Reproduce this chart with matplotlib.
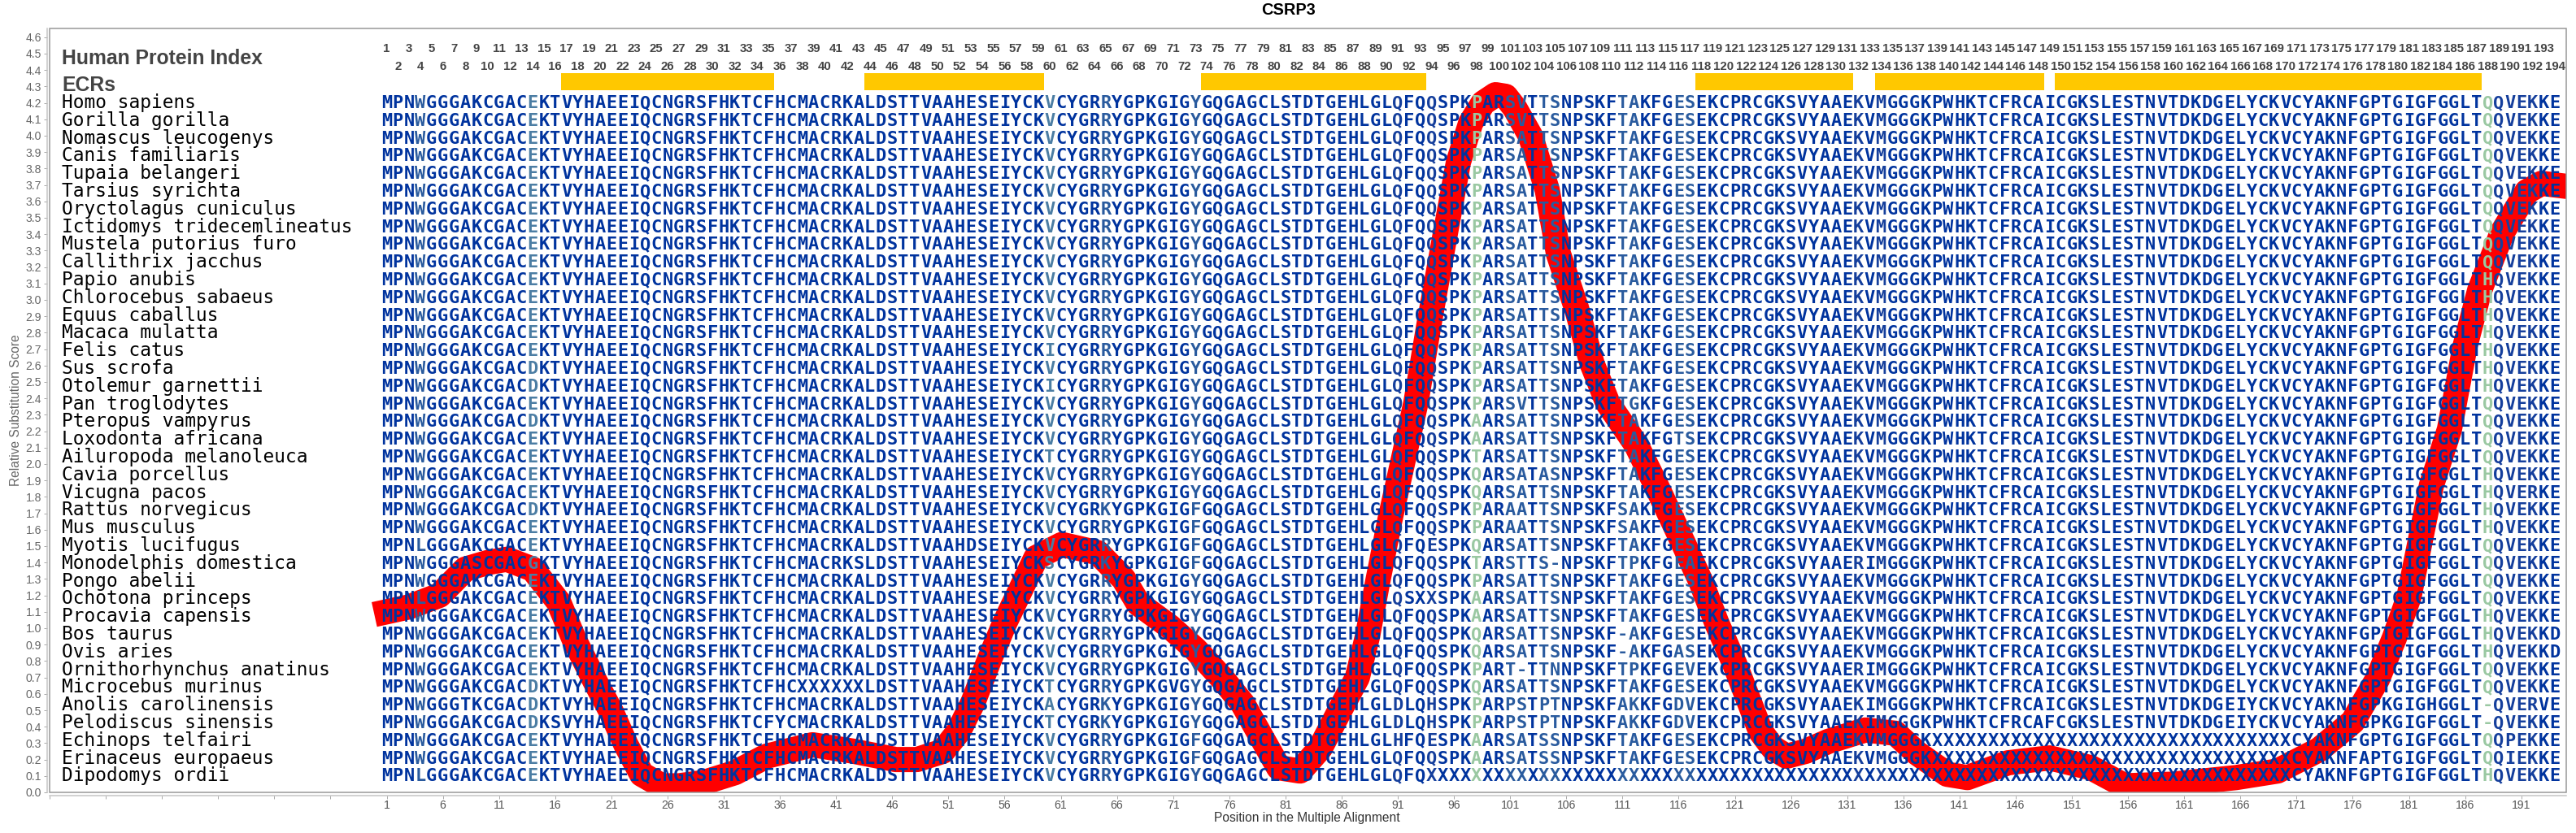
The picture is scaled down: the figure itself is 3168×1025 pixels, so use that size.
#!/usr/bin/env python3
import matplotlib
matplotlib.use('Agg')
import matplotlib.pyplot as plt

W, H = 3168, 1025
px = 72 / 100  # one pixel in points at dpi=100

species = ['Homo sapiens', 'Gorilla gorilla', 'Nomascus leucogenys', 'Canis familiaris',
           'Tupaia belangeri', 'Tarsius syrichta', 'Oryctolagus cuniculus',
           'Ictidomys tridecemlineatus', 'Mustela putorius furo', 'Callithrix jacchus',
           'Papio anubis', 'Chlorocebus sabaeus', 'Equus caballus', 'Macaca mulatta',
           'Felis catus', 'Sus scrofa', 'Otolemur garnettii', 'Pan troglodytes',
           'Pteropus vampyrus', 'Loxodonta africana', 'Ailuropoda melanoleuca',
           'Cavia porcellus', 'Vicugna pacos', 'Rattus norvegicus', 'Mus musculus',
           'Myotis lucifugus', 'Monodelphis domestica', 'Pongo abelii', 'Ochotona princeps',
           'Procavia capensis', 'Bos taurus', 'Ovis aries', 'Ornithorhynchus anatinus',
           'Microcebus murinus', 'Anolis carolinensis', 'Pelodiscus sinensis',
           'Echinops telfairi', 'Erinaceus europaeus', 'Dipodomys ordii']

# consensus of the alignment, changes per species are below (1-based position)
consensus = ('MPNWGGGAKCGACEKTVYHAEEIQCNGRSFHKTCFHCMACRKALDSTTVAAHESEIYCKVCYGRRYGPKGIGYGQGAGCLSTDTGEHLGLQFQQSPKP'
             'ARSATTSNPSKFTAKFGESEKCPRCGKSVYAAEKVMGGGKPWHKTCFRCAICGKSLESTNVTDKDGELYCKVCYAKNFGPTGIGFGGLTQQVEKKE')

changes = {
    'Homo sapiens': {102: 'V'},
    'Gorilla gorilla': {102: 'V'},
    'Papio anubis': {188: 'H'},
    'Chlorocebus sabaeus': {188: 'H'},
    'Equus caballus': {188: 'H'},
    'Macaca mulatta': {188: 'H'},
    'Felis catus': {60: 'I', 188: 'H'},
    'Sus scrofa': {14: 'D', 188: 'H'},
    'Otolemur garnettii': {14: 'D', 60: 'I', 188: 'H'},
    'Pan troglodytes': {102: 'V', 112: 'G'},
    'Pteropus vampyrus': {14: 'D', 98: 'A'},
    'Loxodonta africana': {98: 'A', 116: 'T'},
    'Ailuropoda melanoleuca': {60: 'T', 98: 'T'},
    'Cavia porcellus': {98: 'Q', 104: 'A', 188: 'H'},
    'Vicugna pacos': {98: 'Q', 188: 'H', 192: 'R'},
    'Rattus norvegicus': {14: 'D', 65: 'K', 73: 'F', 101: 'A', 111: 'S', 188: 'H'},
    'Mus musculus': {73: 'F', 101: 'A', 111: 'S', 188: 'H'},
    'Myotis lucifugus': {4: 'L', 53: 'D', 73: 'F', 94: 'E', 98: 'Q'},
    'Monodelphis domestica': {8: 'A', 9: 'S', 14: 'G', 43: 'S', 60: 'S', 65: 'K', 73: 'F', 98: 'T',
                              102: 'T', 104: 'S', 105: '-', 112: 'P', 117: 'A', 132: 'R', 133: 'I'},
    'Ochotona princeps': {4: 'L', 92: 'S', 93: 'X', 94: 'X', 98: 'A'},
    'Procavia capensis': {98: 'A', 188: 'H'},
    'Bos taurus': {98: 'Q', 111: '-', 188: 'H', 194: 'D'},
    'Ovis aries': {98: 'Q', 111: '-', 116: 'A', 188: 'H', 194: 'D'},
    'Ornithorhynchus anatinus': {101: 'T', 102: '-', 105: 'N', 112: 'P', 117: 'V', 132: 'R', 133: 'I'},
    'Microcebus murinus': {14: 'D', 38: 'X', 39: 'X', 40: 'X', 41: 'X', 42: 'X', 43: 'X', 60: 'T',
                           71: 'V', 98: 'Q'},
    'Anolis carolinensis': {8: 'T', 14: 'D', 60: 'A', 65: 'K', 91: 'D', 92: 'L', 94: 'H', 101: 'P',
                            102: 'S', 104: 'P', 105: 'T', 111: 'A', 112: 'K', 116: 'D', 117: 'V',
                            133: 'I', 166: 'I', 179: 'K', 183: 'H', 188: '-', 192: 'R', 193: 'V'},
    'Pelodiscus sinensis': {14: 'D', 16: 'S', 36: 'Y', 60: 'T', 65: 'K', 91: 'D', 92: 'L', 94: 'H',
                            101: 'P', 102: 'S', 104: 'P', 105: 'T', 111: 'A', 112: 'K', 116: 'D',
                            117: 'V', 133: 'I', 149: 'F', 166: 'I', 179: 'K', 188: '-'},
    'Echinops telfairi': {73: 'F', 91: 'H', 94: 'E', 98: 'A', 104: 'S', 190: 'P'},
    'Erinaceus europaeus': {73: 'F', 98: 'A', 104: 'S', 177: 'A', 190: 'I'},
    'Dipodomys ordii': {4: 'L', 188: 'H'},
}
# stretches of unknown residues: species, first and last position
x_runs = [('Echinops telfairi', 139, 170), ('Erinaceus europaeus', 139, 170), ('Dipodomys ordii', 94, 170)]

ecr_start = [17, 44, 74, 118, 134, 150]
ecr_end = [35, 59, 93, 131, 148, 187]

curve_pos = [1, 3, 5.7, 8, 10, 11.7, 14, 16.3, 17.7, 19.6, 21, 22.3, 23.7, 25.5, 27, 29.2, 32, 34.8, 38.9,
             42.6, 46.3, 48.2, 50.5, 51.9, 53.2, 54.6, 56, 57.4, 58.8, 61.1, 64.3, 66.6, 67.9, 70.7, 73,
             75.3, 77.2, 79, 80.4, 82.3, 84.1, 86, 87.4, 88.3, 89.2, 90.3, 92.6, 93.8, 95.3, 96.4, 97.5,
             98.6, 99.7, 100.6, 101.4, 102.8, 104.3, 105.3, 106.9, 108.3, 109.7, 112.2, 114, 116.4, 118,
             119.4, 121, 122.4, 123.3, 124.4, 125.6, 127.3, 129.3, 132.6, 135.3, 137.2, 139.9, 141.7, 145.3,
             149, 152.7, 155.7, 160, 165.6, 169.3, 173, 176, 178.2, 179.7, 181, 183, 184.6, 186, 187.3,
             189.3, 191.5, 192.8, 194]
curve_score = [1.10, 1.13, 1.2, 1.36, 1.40, 1.42, 1.36, 1.16, 0.93, 0.67, 0.49, 0.29, 0.11, 0.04, 0.04, 0.06,
               0.12, 0.22, 0.29, 0.25, 0.2, 0.2, 0.25, 0.37, 0.55, 0.8, 1.03, 1.23, 1.43, 1.51, 1.46, 1.3,
               1.15, 1.01, 0.87, 0.7, 0.54, 0.32, 0.15, 0.13, 0.27, 0.52, 0.7, 0.95, 1.28, 1.66, 2.37, 2.86,
               3.43, 3.84, 4.08, 4.2, 4.25, 4.24, 4.17, 4.0, 3.67, 3.28, 2.95, 2.61, 2.37, 2.12, 1.87, 1.52,
               1.28, 1.03, 0.78, 0.53, 0.37, 0.27, 0.22, 0.25, 0.31, 0.38, 0.36, 0.24, 0.11, 0.09, 0.18, 0.21,
               0.15, 0.04, 0.05, 0.09, 0.13, 0.26, 0.43, 0.69, 0.94, 1.19, 1.87, 2.21, 2.72, 3.06, 3.41, 3.66,
               3.71, 3.7]

x_ticks = list(range(-29, 192, 5))
y_ticks = [i / 10 for i in range(47)]

# how far each column has drifted, colours taken from the picture
base_color = '#00339e'
soft_cols = [91, 94, 132, 134, 189, 190, 191, 192]
mid_cols = [4, 65, 73, 101, 102, 104, 105, 111, 112, 116, 117]
teal_cols = [14, 60]
green_cols = [98, 188]


def col_color(pos):
    if pos in green_cols:
        return '#9ac8a2'
    if pos in teal_cols:
        return '#4b7da3'
    if pos in mid_cols:
        return '#2a5b9e'
    if pos in soft_cols:
        return '#153f9c'
    return base_color


fig = plt.figure(figsize=(W / 100, H / 100), dpi=100, facecolor='white')
ax = fig.add_axes([61 / W, 1 - 975 / H, (3156 - 61) / W, (975 - 35) / H])
ax.set_xlim(-29, 195)
ax.set_ylim(0, 940 / 202)


def yv(pixel):
    return (975 - pixel) / 202


ax.plot(curve_pos, curve_score, color='#ff0000', lw=31 * px, solid_capstyle='projecting',
        solid_joinstyle='round', zorder=1)

for start, end in zip(ecr_start, ecr_end):
    ax.barh(yv(100.5), end - start + 1, left=start - 0.5, height=yv(90) - yv(111),
            color='#ffc800', linewidth=0, zorder=2)

# index numbers above the alignment
for pos in range(1, 195):
    base = yv(64.5) if pos % 2 else yv(86.5)
    ax.text(pos, base, str(pos), ha='center', va='baseline', fontsize=15 * px, fontweight='bold',
            family='Liberation Sans', color='#444444', zorder=3)

for lab, y in [('Human Protein Index', 79.5), ('ECRs', 112.5)]:
    ax.text(-27.9, yv(y), lab, ha='left', va='baseline', fontsize=24.7 * px, fontweight='bold',
            family='Liberation Sans', color='#444444', zorder=3)

for i, name in enumerate(species):
    y = yv(133) - i * 21.8 / 202
    ax.text(-27.9, y, name, ha='left', va='baseline', fontsize=22.8 * px,
            family='DejaVu Sans Mono', color='black', zorder=3)
    seq = list(consensus)
    for pos, letter in changes.get(name, {}).items():
        seq[pos - 1] = letter
    for who, first, last in x_runs:
        if who == name:
            for pos in range(first, last + 1):
                seq[pos - 1] = 'X'
    for pos, letter in enumerate(seq, start=1):
        ax.text(pos, y, letter, ha='center', va='baseline', fontsize=22 * px, fontweight='bold',
                family='DejaVu Sans Mono', color=col_color(pos), zorder=3)

# inner frame, the axes lines sit a little outside of it
ax.add_patch(plt.Rectangle((0, 0), 1, 1, transform=ax.transAxes, fill=False, ec='#969696', lw=1.5 * px,
                           clip_on=False, zorder=4))
for side in ['top', 'right']:
    ax.spines[side].set_visible(False)
ax.spines['left'].set_position(('outward', 3 * px))
ax.spines['bottom'].set_position(('outward', 4 * px))
for side in ['left', 'bottom']:
    ax.spines[side].set_color('#c4c4c4')
    ax.spines[side].set_linewidth(1.5 * px)

ax.set_xticks(x_ticks)
ax.set_xticklabels([str(t) if t > 0 else '' for t in x_ticks])
ax.set_yticks(y_ticks)
ax.set_yticklabels([f'{t:.1f}' for t in y_ticks])
ax.tick_params(axis='x', length=4 * px, width=1 * px, color='#aaaaaa', pad=1 * px,
               labelsize=14 * px, labelcolor='#555555')
ax.tick_params(axis='y', length=4 * px, width=1 * px, color='#aaaaaa', pad=3 * px,
               labelsize=14 * px, labelcolor='#666666')
for t in ax.get_xticklabels() + ax.get_yticklabels():
    t.set_family('Liberation Sans')

fig.text(1584 / W, 1 - 13 / H, 'CSRP3', ha='center', va='center', fontsize=20 * px, fontweight='bold',
         family='Liberation Sans', color='black')
fig.text(20 / W, 1 - 505 / H, 'Relative Substitution Score', rotation=90, ha='center', va='center',
         fontsize=15.5 * px, family='Liberation Sans', color='#666666')
fig.text(1607 / W, 1 - 1006 / H, 'Position in the Multiple Alignment', ha='center', va='center',
         fontsize=15.5 * px, family='Liberation Sans', color='#333333')

fig.savefig('out.png', dpi=100)
